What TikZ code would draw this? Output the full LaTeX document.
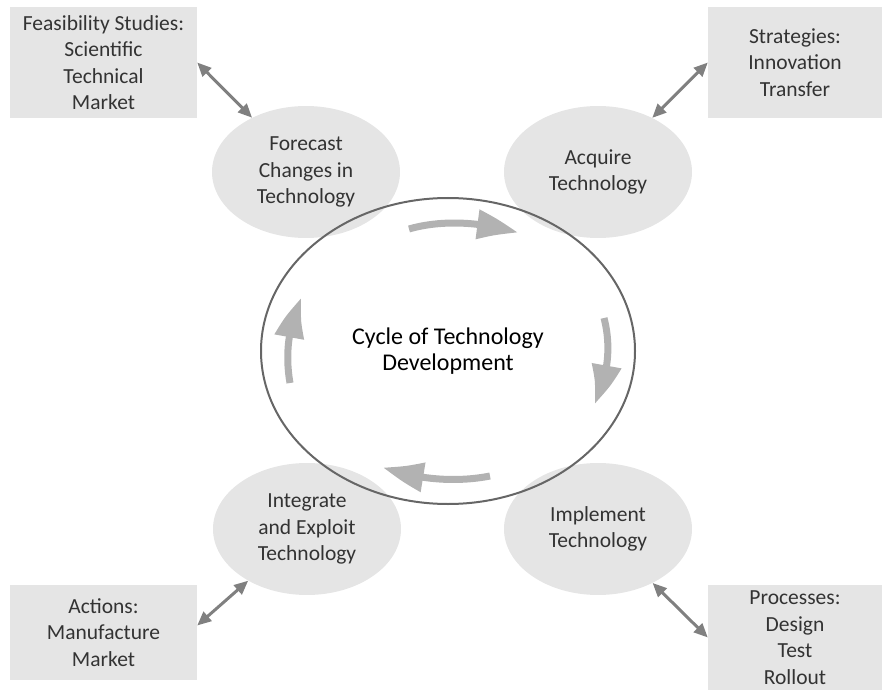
\documentclass[tikz,border=0pt]{standalone}
\usepackage{fontspec}
\setmainfont{Carlito}
\usetikzlibrary{shapes.geometric,arrows.meta,bending}

\tikzset{
  infobox/.style={fill=black!10, text=black!80, inner sep=0pt, align=center,
    font=\fontsize{21.5}{26.5}\selectfont},
  stage/.style={ellipse, fill=black!10, text=black!80, inner sep=0pt,
    minimum width=188pt, minimum height=132pt, align=center,
    font=\fontsize{21.5}{26.5}\selectfont},
  biarrow/.style={black!50, line width=3pt,
    {Triangle[length=14pt,width=12pt]}-{Triangle[length=14pt,width=12pt]}},
  turnarrow/.style={black!30, line width=7pt, -{Triangle[length=42pt,width=28pt,bend]}},
}

\begin{document}
\begin{tikzpicture}[x=1pt,y=1pt,yscale=-1,xscale=1]
\useasboundingbox (0,0) rectangle (892,690);

% Side boxes
\draw (103.5,62.5) node [infobox, minimum width=187pt, minimum height=111pt] (feas) {Feasibility Studies:\\Scientific\\Technical\\Market};
\draw (795,62.5) node [infobox, minimum width=174pt, minimum height=111pt] (strat) {Strategies:\\Innovation\\Transfer};
\draw (103.5,632.5) node [infobox, minimum width=187pt, minimum height=95pt] (act) {Actions:\\Manufacture\\Market};
\draw (795,637.5) node [infobox, minimum width=174pt, minimum height=105pt] (proc) {Processes:\\Design\\Test\\Rollout};

% Stages
\draw (306,172) node [stage] (fore) {Forecast\\Changes in\\Technology};
\draw (598,172) node [stage] (acq) {Acquire\\Technology};
\draw (598,529) node [stage] (impl) {Implement\\Technology};
\draw (307,529) node [stage] (integ) {Integrate\\and Exploit\\Technology};

% Cycle
\draw (448,351) node [ellipse, draw=black!60, line width=2pt, inner sep=0pt,
  minimum width=374pt, minimum height=306pt, align=center,
  font=\fontsize{24}{26}\selectfont] (cycle) {Cycle of Technology\\Development};

% Turning arrows
\draw [turnarrow] (409,229) .. controls (440,220) and (480,221) .. (518,233);
\draw [turnarrow] (604,318) .. controls (611,345) and (609,375) .. (594,404);
\draw [turnarrow] (490,476) .. controls (460,482) and (420,481) .. (383,467);
\draw [turnarrow] (290,383) .. controls (285,355) and (288,325) .. (302,298);

% Links
\draw [biarrow] (feas.east) -- (fore);
\draw [biarrow] (strat.west) -- (acq);
\draw [biarrow] ([yshift=-7pt]act.east) -- (integ);
\draw [biarrow] (proc.west) -- (impl);

\end{tikzpicture}
\end{document}
